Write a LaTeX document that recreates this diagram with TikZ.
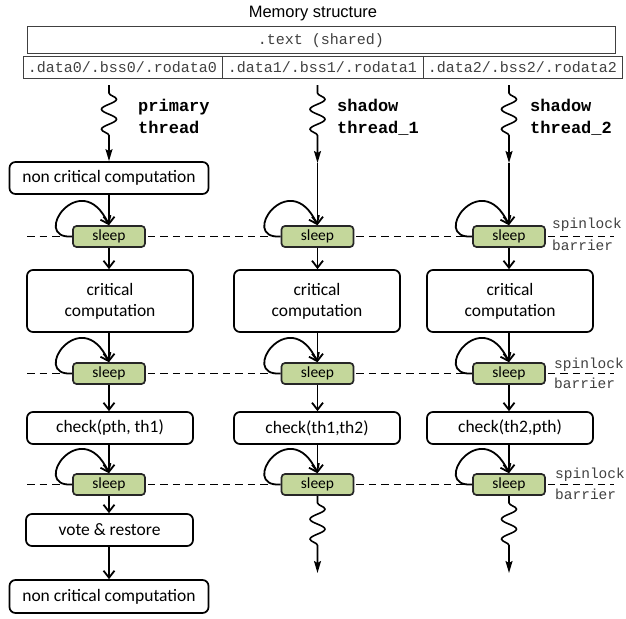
\documentclass[tikz,border=0pt]{standalone}
\usepackage{fontspec}
\setmainfont{Carlito}
\newfontfamily\titlefont{Liberation Sans}
\newfontfamily\memfont{Liberation Mono}
\usetikzlibrary{arrows.meta,decorations.pathmorphing}
\definecolor{sleepgreen}{HTML}{C4D79B}
\definecolor{memgray}{HTML}{404040}
\begin{document}
\begin{tikzpicture}[x=1pt,y=-1pt,
  box/.style={draw=black, line width=1.7pt, rounded corners=6pt, inner sep=0pt,
    font=\fontsize{17.5}{21}\selectfont, align=center},
  sleepbox/.style={draw=black!85, fill=sleepgreen, line width=1.7pt, rounded corners=3.5pt,
    minimum width=72pt, minimum height=21pt, inner sep=0pt, font=\fontsize{15.5}{18}\selectfont},
  membox/.style={draw=memgray, line width=1pt, inner sep=0pt, text=memgray,
    font=\memfont\fontsize{15}{18}\selectfont},
  thrlab/.style={anchor=north west, inner sep=0pt, align=left,
    font=\memfont\bfseries\fontsize{17}{22}\selectfont},
  barlab/.style={anchor=base west, inner sep=0pt, text=memgray,
    font=\memfont\fontsize{14.5}{18}\selectfont},
  arr/.style={line width=1.8pt, -{Straight Barb[length=7pt,width=11pt,line width=1.8pt]}},
  sq/.style={line width=1.6pt, -{Stealth[length=12pt,width=7pt,inset=2pt]},
    decorate, decoration={snake, amplitude=7.5pt, segment length=20pt, pre length=8pt, post length=22pt}},
  sqb/.style={sq, decoration={snake, amplitude=7.5pt, segment length=20pt, pre length=7pt, post length=18pt}},
  barrier/.style={line width=1.7pt, dash pattern=on 7.5pt off 5pt},
]
\useasboundingbox (0,0) rectangle (626,618);

% memory structure
\node[font=\titlefont\fontsize{16.5}{19}\selectfont] (title) at (313,14) {Memory structure};
\node[membox, minimum width=588pt, minimum height=27pt] (text) at (321,40.5) {.text (shared)};
\node[membox, minimum width=199pt, minimum height=21pt] (d0) at (122.5,67.5) {.data0/.bss0/.rodata0};
\node[membox, minimum width=201pt, minimum height=21pt] (d1) at (322.5,67.5) {.data1/.bss1/.rodata1};
\node[membox, minimum width=199pt, minimum height=21pt] (d2) at (522.5,67.5) {.data2/.bss2/.rodata2};

% thread starts
\coordinate (t1) at (109,85);
\coordinate (t2) at (317.5,85);
\coordinate (t3) at (509,85);
\coordinate (m2) at (317.5,163);
\coordinate (m3) at (509,163);
\coordinate (e2) at (317.5,573);
\coordinate (e3) at (509,573);

\node[thrlab] (l1) at (138,99) {primary\\thread};
\node[thrlab] (l2) at (337,99) {shadow\\thread\_1};
\node[thrlab] (l3) at (530,99) {shadow\\thread\_2};

% column 1
\node[box, minimum width=199pt, minimum height=32pt] (nc1) at (109,178) {non critical computation};
\node[sleepbox] (s1a) at (109,236.5) {sleep};
\node[box, minimum width=166pt, minimum height=62pt] (cc1) at (110,301) {critical\\computation};
\node[sleepbox] (s1b) at (109,373.5) {sleep};
\node[box, minimum width=166pt, minimum height=32pt] (ch1) at (110,428) {check(pth, th1)};
\node[sleepbox] (s1c) at (109,484.5) {sleep};
\node[box, minimum width=167pt, minimum height=32pt] (vote) at (109.5,530) {vote \& restore};
\node[box, minimum width=199pt, minimum height=33pt] (nc2) at (109,596.5) {non critical computation};

% column 2
\node[sleepbox] (s2a) at (317.5,236.5) {sleep};
\node[box, minimum width=166pt, minimum height=62pt] (cc2) at (317,301) {critical\\computation};
\node[sleepbox] (s2b) at (317.5,373.5) {sleep};
\node[box, minimum width=166pt, minimum height=32pt] (ch2) at (317,428) {check(th1,th2)};
\node[sleepbox] (s2c) at (317.5,484.5) {sleep};

% column 3
\node[sleepbox] (s3a) at (509,236.5) {sleep};
\node[box, minimum width=166pt, minimum height=62pt] (cc3) at (510,301) {critical\\computation};
\node[sleepbox] (s3b) at (509,373.5) {sleep};
\node[box, minimum width=166pt, minimum height=32pt] (ch3) at (510,428) {check(th2,pth)};
\node[sleepbox] (s3c) at (509,484.5) {sleep};

% barrier lines
\coordinate (bA0) at (27,236.5);  \coordinate (bA1) at (614,236.5);
\coordinate (bB0) at (27,373.5);  \coordinate (bB1) at (614,373.5);
\coordinate (bC0) at (27,484.5);  \coordinate (bC1) at (614,484.5);
\foreach \r in {a,b,c}{
  \draw[barrier] ([xshift=2pt]s1\r.east) -- ([xshift=-1pt]s2\r.west);
  \draw[barrier] ([xshift=2pt]s2\r.east) -- ([xshift=-1pt]s3\r.west);
}
\draw[barrier] (bA0) -- (s1a.west); \draw[barrier] ([xshift=2pt]s3a.east) -- (bA1);
\draw[barrier] (bB0) -- (s1b.west); \draw[barrier] ([xshift=2pt]s3b.east) -- (bB1);
\draw[barrier] (bC0) -- (s1c.west); \draw[barrier] ([xshift=2pt]s3c.east) -- (bC1);

\node[barlab] (spA) at (552,228) {spinlock};
\node[barlab] (brA) at (552,250) {barrier};
\node[barlab] (spB) at (554,368) {spinlock};
\node[barlab] (brB) at (554,388) {barrier};
\node[barlab] (spC) at (555,478) {spinlock};
\node[barlab] (brC) at (555,499) {barrier};

% self loops
\foreach \c in {1,2,3}{
  \foreach \r in {a,b,c}{
    \draw[arr] (s\c\r.west) .. controls +(-43,3) and +(-28,-60) .. (s\c\r.north);
  }
}

% squiggles
\draw[sq] (t1) -- (nc1.north);
\draw[sq] (t2) -- (m2);
\draw[sq] (t3) -- (m3);
\draw[sqb] (s2c.south) -- (e2);
\draw[sqb] (s3c.south) -- (e3);

% flow column 1
\draw[arr] (nc1) -- (s1a);
\draw[arr] (s1a) -- (cc1.north -| s1a);
\draw[arr] (cc1.south -| s1b) -- (s1b);
\draw[arr] (s1b) -- (ch1.north -| s1b);
\draw[arr] (ch1.south -| s1c) -- (s1c);
\draw[arr] (s1c) -- (vote.north -| s1c);
\draw[arr] (vote.south -| s1c) -- (nc2.north -| s1c);

% flow column 2
\draw[arr] (m2) -- (s2a);
\draw[arr] (s2a) -- (cc2.north -| s2a);
\draw[arr] (cc2.south -| s2b) -- (s2b);
\draw[arr] (s2b) -- (ch2.north -| s2b);
\draw[arr] (ch2.south -| s2c) -- (s2c);

% flow column 3
\draw[arr] (m3) -- (s3a);
\draw[arr] (s3a) -- (cc3.north -| s3a);
\draw[arr] (cc3.south -| s3b) -- (s3b);
\draw[arr] (s3b) -- (ch3.north -| s3b);
\draw[arr] (ch3.south -| s3c) -- (s3c);
\end{tikzpicture}
\end{document}
